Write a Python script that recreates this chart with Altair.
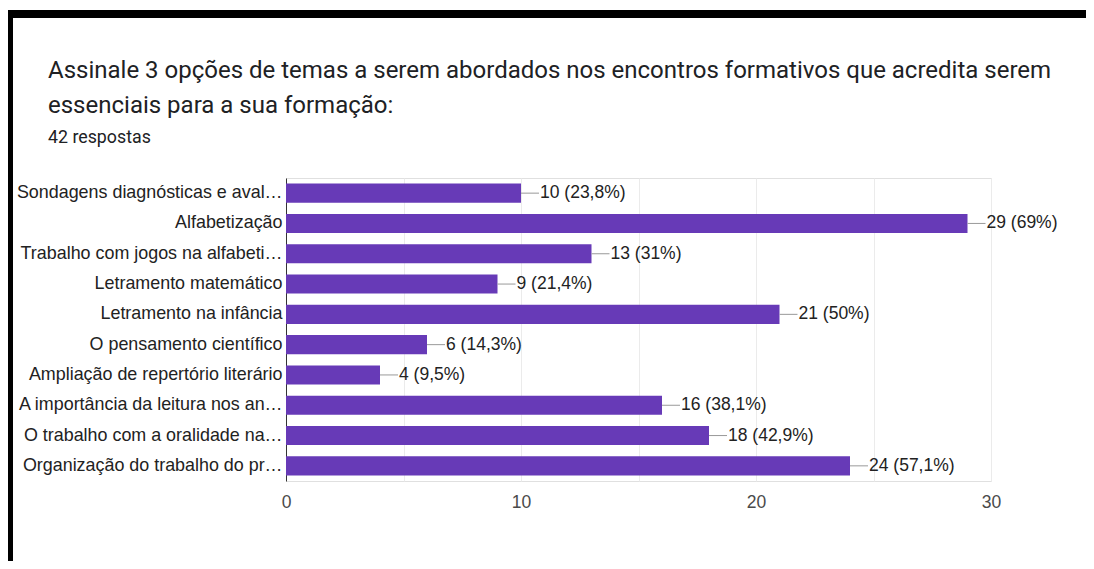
import altair as alt
import pandas as pd

categories = [
    "Sondagens diagnósticas e aval…",
    "Alfabetização",
    "Trabalho com jogos na alfabeti…",
    "Letramento matemático",
    "Letramento na infância",
    "O pensamento científico",
    "Ampliação de repertório literário",
    "A importância da leitura nos an…",
    "O trabalho com a oralidade na…",
    "Organização do trabalho do pr…",
]
counts = [10, 29, 13, 9, 21, 6, 4, 16, 18, 24]
percents = ["23,8%", "69%", "31%", "21,4%", "50%", "14,3%", "9,5%", "38,1%", "42,9%", "57,1%"]
x_ticks = [0, 5, 10, 15, 20, 25, 30]

title_lines = [
    "Assinale 3 opções de temas a serem abordados nos encontros formativos que acredita serem",
    "essenciais para a sua formação:",
]
subtitle = "42 respostas"

df = pd.DataFrame({
    "cat": categories,
    "count": counts,
    "label": [f"{c} ({p})" for c, p in zip(counts, percents)],
})

LABEL_FONT = "Liberation Sans"
TITLE_FONT = "Roboto"

y_enc = alt.Y(
    "cat:N",
    sort=None,
    scale=alt.Scale(paddingInner=0.37, paddingOuter=0.185),
    axis=alt.Axis(
        title=None, domain=True, domainColor="#333333", ticks=False,
        labelPadding=4, labelFontSize=17.9, labelColor="#222222",
        labelFont=LABEL_FONT, labelLimit=400, grid=False,
    ),
)
x_enc = alt.X(
    "count:Q",
    scale=alt.Scale(domain=[0, 30], nice=False),
    axis=alt.Axis(
        title=None, values=x_ticks, domain=False, ticks=False,
        labelExpr="datum.value % 10 == 0 ? datum.label : ''",
        labelPadding=12, labelFontSize=17.5, labelColor="#4a4a4a",
        labelFont=LABEL_FONT, labelFlush=False, grid=True, gridColor="#ebebeb",
    ),
)

base = alt.Chart(df)
bars = base.mark_bar(color="#673ab7").encode(y=y_enc, x=x_enc)
connectors = base.mark_rule(color="#999999", x2Offset=18, strokeWidth=1).encode(
    y=alt.Y("cat:N", sort=None), x="count:Q", x2="count:Q"
)
values = base.mark_text(
    align="left", baseline="middle", dx=19, fontSize=17.5,
    font=LABEL_FONT, color="#222222"
).encode(y=alt.Y("cat:N", sort=None), x="count:Q", text="label:N")

one = pd.DataFrame({"t": [title_lines[0]]})
two = pd.DataFrame({"t": [title_lines[1]]})
three = pd.DataFrame({"t": [subtitle]})

t1 = alt.Chart(one).mark_text(
    align="left", baseline="alphabetic", fontSize=24, font=TITLE_FONT, color="#202124"
).encode(x=alt.value(-238), y=alt.value(-100.5), text="t:N")
t2 = alt.Chart(two).mark_text(
    align="left", baseline="alphabetic", fontSize=24, font=TITLE_FONT, color="#202124"
).encode(x=alt.value(-238), y=alt.value(-65), text="t:N")
t3 = alt.Chart(three).mark_text(
    align="left", baseline="alphabetic", fontSize=17.8, font=TITLE_FONT, color="#202124"
).encode(x=alt.value(-238), y=alt.value(-35), text="t:N")

frame_df = pd.DataFrame({"k": [1]})
top_bar = alt.Chart(frame_df).mark_rule(color="#000000", strokeWidth=8).encode(
    x=alt.value(-281), x2=alt.value(820), y=alt.value(-164)
)
left_bar = alt.Chart(frame_df).mark_rule(color="#000000", strokeWidth=8).encode(
    x=alt.value(-277), y=alt.value(-168), y2=alt.value(400)
)

chart = alt.layer(bars, connectors, values, t1, t2, t3, top_bar, left_bar).properties(
    width=705,
    height=303,
    autosize=alt.AutoSizeParams(type="none"),
    padding={"left": 278, "top": 170, "right": 95, "bottom": 80},
    background="white",
).configure_view(stroke="#e0e0e0")

chart.save("out.html", embed_options={"renderer": "svg", "actions": False})
